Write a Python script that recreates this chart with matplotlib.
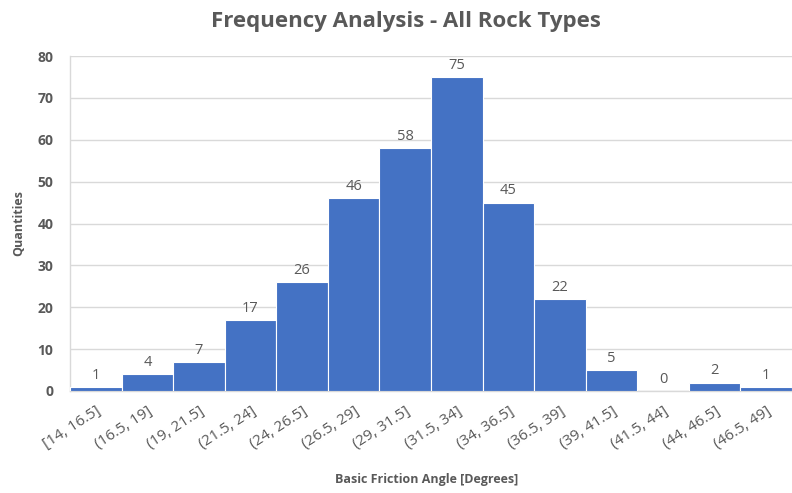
import matplotlib.pyplot as plt
import numpy as np

plt.rcParams['font.family'] = ['Open Sans', 'DejaVu Sans']

bins = ["[14, 16.5]", "(16.5, 19]", "(19, 21.5]", "(21.5, 24]", "(24, 26.5]",
        "(26.5, 29]", "(29, 31.5]", "(31.5, 34]", "(34, 36.5]", "(36.5, 39]",
        "(39, 41.5]", "(41.5, 44]", "(44, 46.5]", "(46.5, 49]"]
counts = [1, 4, 7, 17, 26, 46, 58, 75, 45, 22, 5, 0, 2, 1]
y_ticks = [0, 10, 20, 30, 40, 50, 60, 70, 80]

text_gray = "#595959"
bar_blue = "#4472C4"
grid_gray = "#D9D9D9"

fig = plt.figure(figsize=(7.92, 4.93), dpi=100)
ax = fig.add_axes([70 / 792, 1 - 391 / 493, 722 / 792, (391 - 56) / 493])

x = np.arange(len(bins))
bars = ax.bar(x, counts, width=1.0, color=bar_blue, edgecolor="white",
              linewidth=0.8, zorder=3)

for xi, c in zip(x, counts):
    ax.text(xi, c + 1.0, str(c), ha="center", va="bottom",
            fontsize=10.5, color=text_gray, zorder=4)

ax.set_xlim(-0.5, len(bins) - 0.5)
ax.set_ylim(0, 80)
ax.set_yticks(y_ticks)
ax.set_yticklabels([str(t) for t in y_ticks], fontsize=10, fontweight="bold",
                   color=text_gray)
ax.set_xticks(x)
ax.set_xticklabels(bins, rotation=33, ha="right", rotation_mode="anchor",
                   fontsize=11, color=text_gray)
ax.tick_params(axis="both", length=0)
ax.tick_params(axis="y", pad=12)
ax.tick_params(axis="x", pad=9)

ax.grid(axis="y", color=grid_gray, linewidth=1.0, zorder=0)
for side in ["top", "right"]:
    ax.spines[side].set_visible(False)
ax.spines["left"].set_color(grid_gray)
ax.spines["bottom"].set_color(grid_gray)
ax.spines["left"].set_linewidth(1.0)
ax.spines["bottom"].set_linewidth(1.0)
ax.set_axisbelow(True)

fig.text(406 / 792, 1 - 21 / 493, "Frequency Analysis - All Rock Types",
         ha="center", va="center", fontsize=16, fontweight="bold",
         color=text_gray)
fig.text(427 / 792, 1 - 479 / 493, "Basic Friction Angle [Degrees]",
         ha="center", va="center", fontsize=9, fontweight="bold",
         color=text_gray)
fig.text(19 / 792, 1 - 223 / 493, "Quantities", ha="center", va="center",
         rotation=90, fontsize=9, fontweight="bold", color=text_gray)

fig.savefig("out.png", dpi=100, facecolor="white")
